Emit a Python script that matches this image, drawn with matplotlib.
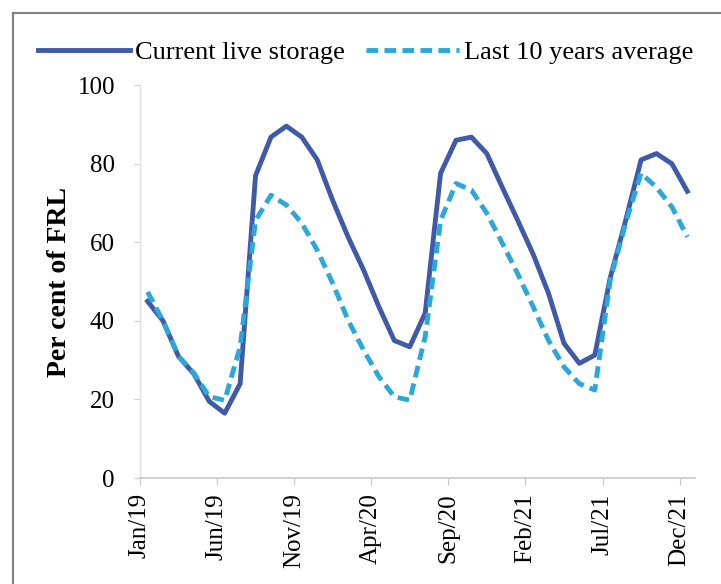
import matplotlib
matplotlib.use("Agg")
import matplotlib.pyplot as plt
from matplotlib.lines import Line2D

plt.rcParams['font.family'] = ['Liberation Serif', 'DejaVu Serif']

# monthly values, Jan/19 .. Dec/21 (per cent of FRL)
current = [45, 40, 31, 26.5, 19.5, 16.5, 24, 77, 86.8, 89.6, 86.8, 81,
           70.7, 61.4, 53, 43.6, 35, 33.4, 42, 77.6, 86, 86.8, 82.6, 74,
           65.6, 57, 47, 34.3, 29.2, 31.3, 51, 65.6, 81, 82.6, 80, 73]
avg10 = [47.4, 40, 31, 26.7, 20.7, 19.8, 33.4, 65.6, 72, 69.5, 64.9, 58,
         49.6, 40.2, 32.6, 25.8, 20.7, 19.8, 36, 65.6, 75, 73.3, 67.4, 59.8,
         52, 43.6, 35, 28.3, 24, 22.4, 50.4, 64.9, 77.6, 74, 69, 61.4]
tick_labels = ["Jan/19", "Jun/19", "Nov/19", "Apr/20", "Sep/20", "Feb/21", "Jul/21", "Dec/21"]
yticks = [0, 20, 40, 60, 80, 100]

fig = plt.figure(figsize=(7.21, 5.84), dpi=100)
ax = fig.add_axes([0.194, 0.1815, 0.770, 0.6725])

x = list(range(len(current)))
ax.plot(x, current, color='#3f5aa8', lw=3.5, solid_joinstyle='round',
        label='Current live storage')
ax.plot(x, avg10, color='#2aa8dc', lw=3.5, ls=(0, (2.4, 1.3)),
        label='Last 10 years average')

ax.set_xlim(-0.5, 35.5)
ax.set_ylim(0, 100)
ax.set_xticks([i * 5 - 0.5 for i in range(len(tick_labels))])
ax.set_xticklabels(tick_labels, rotation=90, fontsize=18)
ax.set_yticks(yticks)
ax.set_yticklabels([str(v) for v in yticks], fontsize=18)
ax.tick_params(axis='y', length=4, color='#d0d0d0', pad=14)
ax.tick_params(axis='x', length=5, color='#c8c8c8', pad=6)
for s in ['top', 'right']:
    ax.spines[s].set_visible(False)
ax.spines['left'].set_color('#e0e0e0')
ax.spines['bottom'].set_color('#c8c8c8')
ax.spines['left'].set_linewidth(1)
ax.spines['bottom'].set_linewidth(1.2)
ax.set_ylabel('Per cent of FRL', fontsize=20, fontweight='bold', labelpad=4)

ax.legend(loc='lower left', bbox_to_anchor=(-0.222, 1.0), ncol=2, frameon=False,
          fontsize=19, handlelength=3.5, handletextpad=0.2, columnspacing=0.8,
          borderaxespad=0.4)

# outer frame (top and left edges visible)
fig.add_artist(Line2D([13 / 721, 1], [1 - 13 / 584, 1 - 13 / 584], color='#808080', lw=1.5))
fig.add_artist(Line2D([13 / 721, 13 / 721], [0, 1 - 13 / 584], color='#808080', lw=1.5))

fig.savefig('out.png', dpi=100)
